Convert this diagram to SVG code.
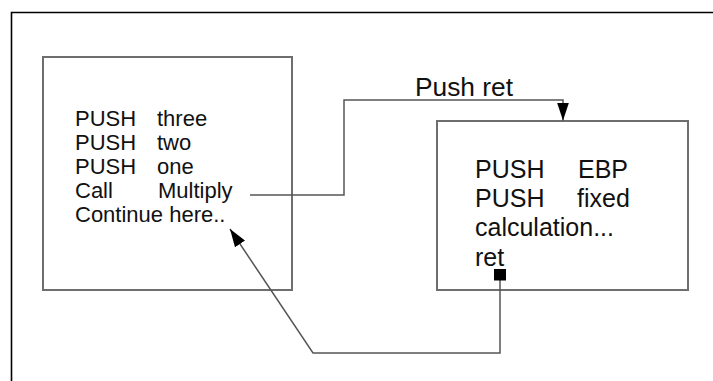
<svg xmlns="http://www.w3.org/2000/svg" width="713" height="381" viewBox="0 0 713 381">
  <style>
    .frame { fill: none; stroke: #000; stroke-width: 1.6; }
    .box { fill: #fff; stroke: #6e6e6e; stroke-width: 2; }
    .wire { fill: none; stroke: #555; stroke-width: 1.5; }
    .code { font-family: "Liberation Sans", Arial, sans-serif; fill: #111; }
    .small { font-size: 22px; }
    .large { font-size: 25px; }
    .label { font-family: "Liberation Sans", Arial, sans-serif; font-size: 25px; fill: #111; }
  </style>
  <defs>
    <marker id="tri" viewBox="0 0 18 12" refX="18" refY="6" markerWidth="18" markerHeight="12" markerUnits="userSpaceOnUse" orient="auto">
      <path d="M0,0 L18,6 L0,12 Z" fill="#000"/>
    </marker>
    <marker id="sq" viewBox="0 0 12 12" refX="6" refY="6" markerWidth="12" markerHeight="12" markerUnits="userSpaceOnUse" orient="auto">
      <rect x="0" y="0" width="12" height="12" fill="#000"/>
    </marker>
  </defs>

  <rect width="713" height="381" fill="#fff"/>

  <!-- page frame (top and left edges) -->
  <path class="frame" d="M11.5,381 V12.5 H713"/>

  <!-- caller -->
  <g id="caller">
    <rect class="box" x="43" y="57" width="249" height="233"/>
    <g class="code small">
      <text x="75" y="126">PUSH</text><text x="157" y="126">three</text>
      <text x="75" y="150">PUSH</text><text x="157" y="150">two</text>
      <text x="75" y="174">PUSH</text><text x="157" y="174">one</text>
      <text x="75" y="198">Call</text><text x="158" y="198">Multiply</text>
      <text x="75" y="222">Continue here..</text>
    </g>
  </g>

  <!-- callee -->
  <g id="multiply">
    <rect class="box" x="437" y="121" width="251" height="169"/>
    <g class="code large">
      <text x="475" y="178">PUSH</text><text x="578" y="178">EBP</text>
      <text x="475" y="207">PUSH</text><text x="577" y="207">fixed</text>
      <text x="475" y="236">calculation...</text>
      <text x="475" y="266">ret</text>
    </g>
  </g>

  <!-- connectors -->
  <g id="connectors">
    <path class="wire" d="M250,195 H344 V100 H563 V120.5" marker-end="url(#tri)"/>
    <text class="label" x="415" y="96" textLength="98" lengthAdjust="spacingAndGlyphs">Push ret</text>
    <path class="wire" d="M500,274.5 V353 H313 L230,229" marker-start="url(#sq)" marker-end="url(#tri)"/>
  </g>
</svg>
